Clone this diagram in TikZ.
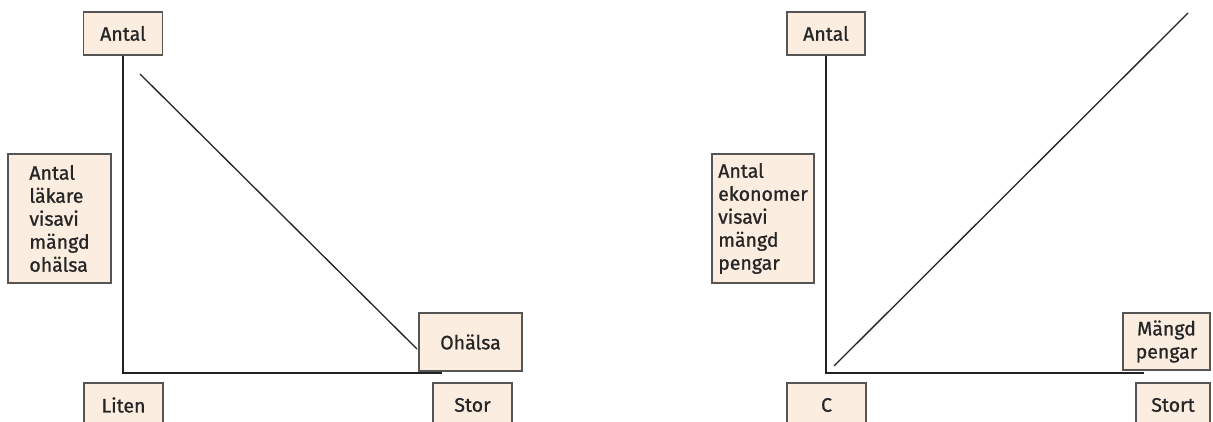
\documentclass[tikz,border=0pt]{standalone}
\usepackage{fontspec}
\setmainfont{Fira Sans}[FakeBold=1]
\definecolor{boxfill}{HTML}{FBEDE0}
\definecolor{boxline}{HTML}{555555}
\definecolor{axisline}{HTML}{222222}
\begin{document}
\begin{tikzpicture}[x=1pt,y=-1pt,
  lbl/.style={draw=boxline, fill=boxfill, line width=1.1pt, inner sep=0pt,
    font=\fontsize{19.5}{23}\selectfont, text=black!85, align=left},
  ax/.style={draw=axisline, line width=1.4pt},
  diag/.style={draw=axisline, line width=1.3pt}]
\useasboundingbox (0,0) rectangle (1213,421);
% left panel
\node[lbl, minimum width=79pt, minimum height=43pt] (antalA) at (123,33.5) {Antal};
\node[lbl, minimum width=103pt, minimum height=129pt] (lak) at (59.5,218.5) {Antal\\läkare\\visavi\\mängd\\ohälsa};
\node[lbl, minimum width=103pt, minimum height=58pt] (ohalsa) at (470.5,342) {Ohälsa};
\node[lbl, minimum width=79pt, minimum height=44pt] (liten) at (123.5,405) {Liten};
\node[lbl, minimum width=79pt, minimum height=44pt] (stor) at (472.5,405) {Stor};
\coordinate (cornerA) at (123,373);
\coordinate (endA) at (442,373);
\coordinate (dA1) at (140,74);
\coordinate (dA2) at (417,349);
\draw[ax] (antalA.south) -- (cornerA) -- (endA);
\draw[diag] (dA1) -- (dA2);
% right panel
\node[lbl, minimum width=78pt, minimum height=43pt] (antalB) at (826,33.5) {Antal};
\node[lbl, minimum width=102pt, minimum height=129pt] (ekon) at (763,218.5) {Antal\\ekonomer\\visavi\\mängd\\pengar};
\node[lbl, minimum width=87pt, minimum height=57pt, align=center] (mangd) at (1166.5,341.5) {Mängd\\pengar};
\node[lbl, minimum width=74pt, minimum height=44pt] (stort) at (1173,405) {Stort};
\node[lbl, minimum width=79pt, minimum height=44pt] (cbox) at (826.5,405) {C};
\coordinate (cornerB) at (826,373);
\coordinate (endB) at (1144,373);
\coordinate (dB1) at (834,366);
\coordinate (dB2) at (1188,13);
\draw[ax] (antalB.south) -- (cornerB) -- (endB);
\draw[diag] (dB1) -- (dB2);
\end{tikzpicture}
\end{document}
